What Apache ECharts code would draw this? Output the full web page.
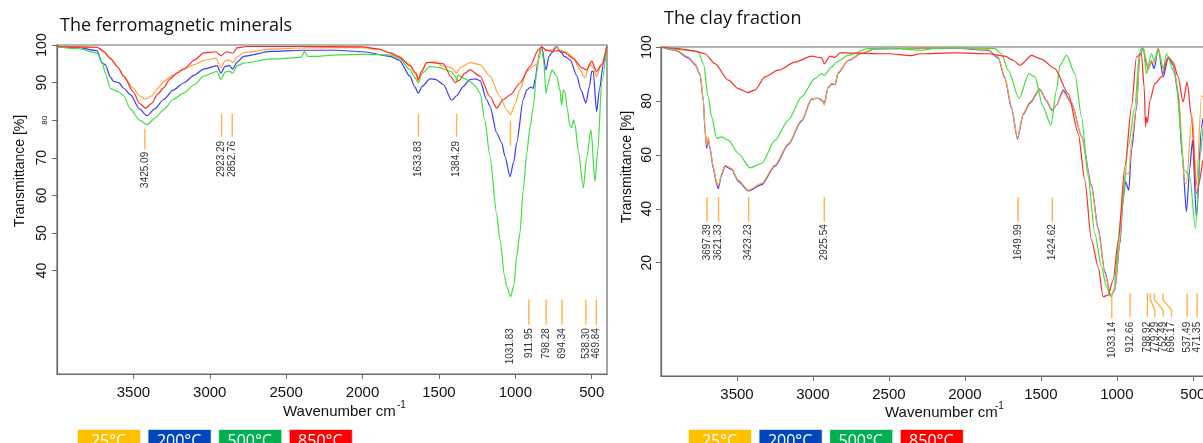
<!DOCTYPE html>
<html>
<head>
<meta charset="utf-8">
<title>FTIR spectra</title>
<script src="https://cdn.jsdelivr.net/npm/echarts@6/dist/echarts.min.js"></script>
<style>
    html, body { margin: 0; padding: 0; background: #fff; }
    #main { width: 1203px; height: 443px; }
</style>
</head>
<body>
<div id="main"></div>
<script type="text/javascript">
// temperatures (legend)
var temps = ['25°C', '200°C', '500°C', '850°C'];

// x / y tick labels
var xTicks = [500, 1000, 1500, 2000, 2500, 3000, 3500];
var ferroYTicks = [40, 50, 60, 70, 80, 90, 100];
var clayYTicks = [20, 40, 60, 80, 100];

// ---- The ferromagnetic minerals : [wavenumber, transmittance %]
var ferro25 = [[4000,99.6],[3860,99.5],[3738,99.4],[3695,98.3],[3651,96.5],[3600,94],[3564,91.7],[3500,88.5],[3460,86.5],[3422,85.6],[3380,86.5],[3340,88.5],[3302,90.3],[3240,92],[3171,93.6],[3100,94.8],[3040,95.9],[2960,96.5],[2927,94],[2900,95.8],[2870,96],[2850,95.3],[2820,96.8],[2778,98],[2600,98.9],[2400,99.2],[2167,99.3],[2000,99.3],[1900,98.8],[1820,98],[1760,97],[1690,94.8],[1650,92],[1635,90.3],[1615,92.5],[1580,95.3],[1559,95.4],[1520,95.5],[1471,94.3],[1420,94],[1384,92.5],[1360,94],[1297,95.3],[1231,94.8],[1166,91.7],[1101,86.3],[1057,82.8],[1031,81.5],[1000,84.5],[970,88.1],[926,93],[883,94.3],[857,95],[828,99.6],[800,98.5],[760,98.7],[740,99.5],[700,98.5],[660,98],[620,96.6],[580,93.5],[544,91.3],[514,95],[490,94],[469,91.5],[437,94.8],[402,99.6]];
var ferro200 = [[4000,99.5],[3860,99.3],[3738,98.5],[3705,95.2],[3684,94.8],[3651,91.5],[3629,90.3],[3596,90],[3564,88.5],[3520,86.8],[3460,83],[3411,81.2],[3360,83],[3302,85.5],[3240,88],[3171,89.9],[3100,92],[3040,93.6],[2953,94.5],[2927,92.5],[2900,94.3],[2870,94.5],[2850,93.6],[2820,95.5],[2778,97],[2600,98.3],[2400,98.6],[2167,98.6],[2000,98.2],[1820,97],[1760,96],[1690,91.7],[1660,89],[1635,87.2],[1610,89],[1559,91],[1520,90.8],[1471,89.5],[1417,85.3],[1384,86.5],[1340,89],[1297,90.8],[1260,91],[1231,90.5],[1188,85.5],[1166,83.7],[1122,76.6],[1089,74],[1068,70.4],[1035,65],[1010,69],[991,74],[948,85.5],[926,88],[900,88.8],[883,88.5],[870,91],[850,96],[828,99.6],[799,93.4],[780,97],[760,98],[730,99.6],[700,98],[680,97],[640,96],[599,92],[570,88],[538,84.6],[515,89],[500,93],[490,93],[468,82.3],[450,88],[424,95],[402,99.6]];
var ferro500 = [[4000,99.5],[3860,99],[3738,97.9],[3705,95.5],[3684,92.5],[3651,88.5],[3629,88.1],[3596,87.5],[3564,86.5],[3520,83],[3460,80],[3411,78.8],[3360,80.5],[3302,82.8],[3240,85.5],[3171,87.2],[3100,89.5],[3040,91.7],[2953,93],[2927,90.8],[2900,92.8],[2870,93],[2850,92.5],[2820,94.5],[2778,95.2],[2600,96.3],[2473,96.5],[2400,96.8],[2380,98.3],[2360,97],[2300,97],[2167,97.4],[2000,97.5],[1820,97.4],[1760,96.5],[1690,93.5],[1660,91.5],[1635,89.9],[1610,92.5],[1559,94.3],[1500,94],[1420,93],[1390,91.5],[1384,90.3],[1375,92],[1330,91],[1297,90.3],[1260,89],[1231,87.2],[1200,80],[1166,70.4],[1122,55],[1101,48.2],[1070,38.5],[1057,35.8],[1031,33.1],[1010,36],[991,43.8],[970,50],[948,61.5],[926,71],[904,78],[882,83.7],[860,93],[840,98.7],[828,99],[815,96],[799,87.2],[790,89],[770,92],[760,93.4],[730,91.8],[708,88],[697,84],[686,88],[675,87.5],[660,83],[642,78.4],[631,78],[620,80],[610,79],[588,72],[555,62],[533,70],[505,77.5],[479,63.7],[460,72],[435,90],[402,99.6]];
var ferro850 = [[4000,99.6],[3860,99.5],[3738,99.4],[3695,98.3],[3651,96.4],[3600,94],[3564,91.7],[3500,87.5],[3460,84.5],[3420,83.2],[3380,84.5],[3340,87],[3302,88.6],[3260,91],[3215,92.5],[3171,93.6],[3100,96],[3040,97.9],[2960,98.2],[2927,97.2],[2890,98.2],[2850,97.8],[2820,99.3],[2760,99.6],[2400,99.6],[2000,99.5],[1900,99],[1820,97.9],[1760,96.8],[1690,94.5],[1650,92.5],[1635,90.8],[1615,93],[1580,95.3],[1559,95.4],[1520,95.2],[1471,95],[1420,91.5],[1395,90],[1370,90.5],[1330,92.5],[1297,93.4],[1231,91.7],[1166,86.3],[1122,83.2],[1079,85.5],[1031,86.8],[970,89.9],[904,94.3],[850,98.7],[828,99.6],[800,98.7],[760,98.3],[720,98.5],[680,98],[620,96.4],[566,94],[533,93.4],[500,95.7],[469,93],[435,94.8],[402,99.6]];
var ferroPeaks = [3425.09, 2923.29, 2852.76, 1633.83, 1384.29, 1031.83, 911.95, 798.28, 694.34, 538.30, 469.84];

// ---- The clay fraction
var clay25 = [[4000,100],[3908,99],[3820,96.3],[3776,93.8],[3743,90.1],[3721,80.3],[3711,70.4],[3700,63.5],[3689,66.5],[3678,63],[3656,55.6],[3634,50],[3623,48.5],[3601,53.1],[3579,56.2],[3535,55],[3491,50.6],[3425,46.9],[3338,49.4],[3250,56.2],[3162,64.2],[3075,72.9],[3009,80.9],[2965,81],[2943,80.5],[2925,78.5],[2899,85.2],[2877,86.5],[2855,86.2],[2833,90.7],[2768,95.1],[2680,97.8],[2592,99.4],[2300,99.6],[2066,99.7],[1847,99],[1781,96.3],[1737,88.9],[1693,77.8],[1654,66.4],[1616,75.3],[1572,79.6],[1507,84.6],[1463,80.3],[1426,76.8],[1397,78.5],[1353,83.3],[1298,79],[1232,66.7],[1167,48.1],[1123,32.1],[1079,16.1],[1040,7.4],[1013,10.4],[980,28.4],[958,46.9],[943,53.1],[921,53],[903,65.4],[871,77.8],[849,97.5],[827,100],[805,95.1],[794,91.4],[772,95.1],[754,94],[728,100],[695,92],[662,96.3],[630,94],[597,84],[553,49.4],[542,49.5],[509,72],[502,74],[476,48.8],[443,81.5],[434,82]];
var clay200 = [[4000,100],[3908,98.8],[3820,96],[3776,93.5],[3743,89.8],[3721,80],[3711,69.5],[3700,62.5],[3689,65.8],[3678,62.5],[3656,55],[3634,49.2],[3623,47.5],[3601,52.6],[3579,55.8],[3535,54.6],[3491,50.2],[3425,46.6],[3338,49],[3250,55.8],[3162,63.8],[3075,72.5],[3009,80.7],[2965,81],[2943,80.2],[2925,79.5],[2899,85],[2877,86.2],[2855,86],[2833,90.4],[2768,95],[2680,97.6],[2592,99.3],[2300,99.5],[2066,99.6],[1847,98.8],[1781,96],[1737,88.5],[1693,77.3],[1654,66],[1616,75],[1572,79.2],[1507,84.3],[1463,80],[1426,76.5],[1397,78.5],[1353,84],[1298,79.2],[1232,67],[1167,48.8],[1123,32.8],[1079,16.8],[1040,7.8],[1013,10],[980,27],[958,44],[943,50],[921,46.9],[903,62],[871,77],[849,97],[827,99.6],[805,94],[794,92],[772,94.5],[754,92],[728,99.5],[695,88.9],[662,96],[630,93.5],[597,83],[570,60],[542,38.9],[520,55],[502,65.4],[476,36.5],[443,70],[434,73.6]];
var clay500 = [[4000,100],[3820,98.8],[3754,98.1],[3721,93.8],[3689,81.5],[3667,74.1],[3634,66.1],[3601,66.7],[3557,65.5],[3491,60.5],[3414,55.2],[3338,56.8],[3250,65.4],[3162,72.9],[3075,81.5],[2987,88.3],[2943,90.1],[2925,89.5],[2877,92.6],[2844,94.4],[2768,96.9],[2636,99.4],[2504,99.6],[2285,98.8],[2200,99.5],[2066,99.7],[1803,99.5],[1759,97.5],[1715,91.4],[1643,80.9],[1579,90.1],[1540,89],[1485,77.8],[1434,71],[1397,84],[1375,93.2],[1331,96.9],[1276,90.1],[1232,74.1],[1189,51.9],[1145,30.9],[1101,18.5],[1068,11.1],[1040,7.4],[1024,9],[969,38.3],[925,63],[882,77.8],[849,98.8],[827,100],[805,90.1],[772,97.5],[754,95],[728,98.8],[695,92],[673,97.5],[618,90.1],[553,54.3],[520,52],[483,32.7],[450,60],[434,70]];
var clay850 = [[4000,100],[3908,99.5],[3776,98.5],[3711,97.5],[3645,93.8],[3557,87.7],[3491,84.6],[3430,83.1],[3382,84],[3316,88.9],[3228,91.4],[3118,94.4],[3009,96.6],[2943,96],[2925,93.8],[2888,96.6],[2855,96.1],[2822,97.8],[2504,97.5],[2351,96.8],[2300,97.5],[2066,97.8],[1847,97.5],[1737,96.6],[1680,95],[1638,93.2],[1561,96.9],[1496,95.5],[1408,92],[1320,82.7],[1254,67.9],[1211,50.6],[1167,28.4],[1123,18.5],[1090,7.4],[1057,8],[1024,13.6],[991,28],[947,55.6],[903,78],[871,96.3],[838,97.5],[820,85],[811,70.4],[805,74],[798,72],[783,80],[750,86.4],[706,88.9],[662,96.3],[630,94.4],[597,89],[564,79.6],[537,87],[509,74.1],[476,45.7],[434,58]];
var clayPeaks = [3697.39, 3621.33, 3423.23, 2925.54, 1649.99, 1424.62, 1033.14, 912.66, 798.92, 779.29, 752.49, 696.17, 537.49, 471.35];

// colours
var lineColors = ['#ffa53c', '#3b3bf5', '#3ee03e', '#ff2b2b'];
var boxColors = ['#ffc000', '#0047bb', '#00b050', '#ff0000'];
var markColor = '#ffb44a';

// marker layout (axis units): line top, line bottom, label top, label x
// ferro: 3425 sits a bit lower, 1031 has its label down with the lower group
function ferroMark(w) {
    if (w === 3425.09) return { top: 77.7, bot: 72.2, lab: 71.6, lx: w };
    if (w === 1031.83) return { top: 79.9, bot: 73.2, lab: 24.7, lx: w };
    if (w > 1300) return { top: 81.7, bot: 75.6, lab: 74.5, lx: w };
    return { top: 32.3, bot: 25.6, lab: 24.7, lx: w };
}
// clay: crowded 779/752/696 use bent leaders
var clayBent = { 779.29: 750, 752.49: 695, 696.17: 640 };
function clayMark(w) {
    if (w > 1300) return { top: 44.4, bot: 35.2, lab: 34.3, lx: w };
    if (w === 1033.14) return { top: 8.7, bot: -0.6, lab: -1.9, lx: w };
    return { top: 8.7, bot: 0, lab: -1.9, lx: clayBent[w] || w };
}

function markerSeries(idx, peaks, layoutFn) {
    var items = peaks.map(function (w) {
        var m = layoutFn(w);
        var k1 = m.lx === w ? m.bot : m.top - (m.top - m.bot) * 0.28;
        var k2 = m.lx === w ? m.bot : m.top - (m.top - m.bot) * 0.72;
        return [w, m.lx, m.top, k1, k2, m.bot, m.lab];
    });
    return {
        type: 'custom',
        xAxisIndex: idx,
        yAxisIndex: idx,
        clip: false,
        silent: true,
        z: 5,
        data: items,
        renderItem: function (params, api) {
            var w = api.value(0), lx = api.value(1);
            var p0 = api.coord([w, api.value(2)]);
            var p1 = api.coord([w, api.value(3)]);
            var p2 = api.coord([lx, api.value(4)]);
            var p3 = api.coord([lx, api.value(5)]);
            var pt = api.coord([lx, api.value(6)]);
            return {
                type: 'group',
                children: [{
                    type: 'polyline',
                    shape: { points: [p0, p1, p2, p3] },
                    style: { stroke: markColor, lineWidth: 1.4, fill: null }
                }, {
                    type: 'text',
                    x: pt[0],
                    y: pt[1],
                    rotation: Math.PI / 2,
                    style: {
                        text: peaks[params.dataIndex].toFixed(2),
                        fill: '#333',
                        font: '10px "Liberation Sans", Arial',
                        align: 'right',
                        verticalAlign: 'middle'
                    }
                }]
            };
        }
    };
}

function spectrum(name, data, idx, color) {
    return {
        name: name,
        type: 'line',
        xAxisIndex: idx,
        yAxisIndex: idx,
        data: data,
        symbol: 'none',
        smooth: 0.25,
        smoothMonotone: 'x',
        silent: true,
        lineStyle: { color: color, width: 1.2 },
        itemStyle: { color: color }
    };
}

function xAxisOpt(idx) {
    return {
        type: 'value',
        gridIndex: idx,
        min: 400,
        max: 4000,
        inverse: true,
        axisLine: { onZero: false, lineStyle: { color: '#6b6b6b', width: 1.2 } },
        axisTick: { customValues: xTicks, length: 5, lineStyle: { color: '#6b6b6b' } },
        axisLabel: {
            customValues: xTicks, margin: 11, color: '#111', fontSize: 15, fontFamily: 'Liberation Sans',
            formatter: function (v) { return String(v); }
        },
        splitLine: { show: false }
    };
}

function yAxisOpt(idx, min, ticks, margin) {
    return {
        type: 'value',
        gridIndex: idx,
        min: min,
        max: 100,
        axisLine: { show: true, onZero: false, lineStyle: { color: '#6b6b6b', width: 1.2 } },
        axisTick: { show: true, customValues: ticks, length: 5, lineStyle: { color: '#6b6b6b' } },
        axisLabel: {
            customValues: ticks,
            rotate: 90,
            margin: margin,
            color: '#111',
            fontSize: 14,
            fontFamily: 'Liberation Sans',
            formatter: function (v) { return (idx === 0 && v === 80) ? '{s|80}' : String(v); },
            rich: { s: { fontSize: 8, fontFamily: 'Liberation Sans', color: '#111' } }
        },
        splitLine: { show: false }
    };
}

// legend boxes and texts (drawn as graphic)
function legendBoxes(x0) {
    var out = [];
    temps.forEach(function (t, i) {
        var x = x0 + i * 70.6;
        out.push({ type: 'rect', left: x, top: 429, shape: { width: 63, height: 22 },
            style: { fill: boxColors[i], stroke: 'rgba(255,255,255,0.6)', lineWidth: 1 } });
        out.push({ type: 'text', x: x + 31.5, y: 441, style: { text: t, fill: '#fff',
            font: '16px "Open Sans"', align: 'center', verticalAlign: 'middle' } });
    });
    return out;
}

var graphics = [
    { type: 'text', x: 60, y: 26, style: { text: 'The ferromagnetic minerals', fill: '#111', font: '18px "Open Sans"', verticalAlign: 'middle' } },
    { type: 'text', x: 664, y: 19, style: { text: 'The clay fraction', fill: '#111', font: '18px "Open Sans"', verticalAlign: 'middle' } },
    { type: 'text', x: 20, y: 171, rotation: Math.PI / 2, style: { text: 'Transmittance [%]', fill: '#111', font: '14px "Liberation Sans"', align: 'center', verticalAlign: 'middle' } },
    { type: 'text', x: 627, y: 167, rotation: Math.PI / 2, style: { text: 'Transmittance [%]', fill: '#111', font: '14px "Liberation Sans"', align: 'center', verticalAlign: 'middle' } },
    { type: 'text', x: 283, y: 412, style: { text: 'Wavenumber cm', fill: '#111', font: '15px "Liberation Sans"', verticalAlign: 'middle' } },
    { type: 'text', x: 397, y: 405, style: { text: '-1', fill: '#111', font: '10px "Liberation Sans"', verticalAlign: 'middle' } },
    { type: 'text', x: 885, y: 413, style: { text: 'Wavenumber cm', fill: '#111', font: '15px "Liberation Sans"', verticalAlign: 'middle' } },
    { type: 'text', x: 995, y: 406, style: { text: '-1', fill: '#111', font: '10px "Liberation Sans"', verticalAlign: 'middle' } }
].concat(legendBoxes(77)).concat(legendBoxes(688));

var myChart = echarts.init(document.getElementById('main'), null, { renderer: 'canvas' });

var option = {
    animation: false,
    backgroundColor: '#fff',
    grid: [
        { left: 57, top: 45, width: 550, height: 329, outerBoundsMode: 'none', containLabel: false,
          show: true, borderColor: '#6b6b6b', borderWidth: 1.2, backgroundColor: 'transparent' },
        { left: 661, top: 47, width: 547, height: 329, outerBoundsMode: 'none', containLabel: false,
          show: true, borderColor: '#6b6b6b', borderWidth: 1.2, backgroundColor: 'transparent' }
    ],
    xAxis: [xAxisOpt(0), xAxisOpt(1)],
    yAxis: [yAxisOpt(0, 12.5, ferroYTicks, 8), yAxisOpt(1, -22, clayYTicks, 7)],
    series: [
        spectrum(temps[1], ferro200, 0, lineColors[1]),
        spectrum(temps[2], ferro500, 0, lineColors[2]),
        spectrum(temps[0], ferro25, 0, lineColors[0]),
        spectrum(temps[3], ferro850, 0, lineColors[3]),
        markerSeries(0, ferroPeaks, ferroMark),
        spectrum(temps[1], clay200, 1, lineColors[1]),
        spectrum(temps[0], clay25, 1, lineColors[0]),
        spectrum(temps[2], clay500, 1, lineColors[2]),
        spectrum(temps[3], clay850, 1, lineColors[3]),
        markerSeries(1, clayPeaks, clayMark)
    ],
    graphic: graphics
};

myChart.setOption(option);
</script>
</body>
</html>
